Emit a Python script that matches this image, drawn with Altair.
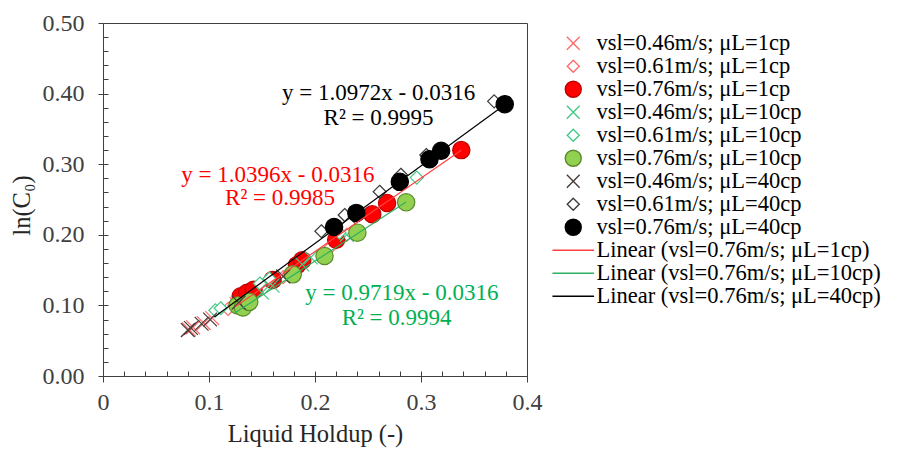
import altair as alt
import pandas as pd

FONT = "Liberation Serif"

# Series labels, in drawing order
SERIES = [
    "vsl=0.46m/s; μL=1cp",
    "vsl=0.61m/s; μL=1cp",
    "vsl=0.76m/s; μL=1cp",
    "vsl=0.46m/s; μL=10cp",
    "vsl=0.61m/s; μL=10cp",
    "vsl=0.76m/s; μL=10cp",
    "vsl=0.46m/s; μL=40cp",
    "vsl=0.61m/s; μL=40cp",
    "vsl=0.76m/s; μL=40cp",
]
TRENDS = [
    "Linear (vsl=0.76m/s; μL=1cp)",
    "Linear (vsl=0.76m/s; μL=10cp)",
    "Linear (vsl=0.76m/s; μL=40cp)",
]

# Liquid holdup (x) and ln(C0) (y) for each series
hold_046_1 = [0.081, 0.085, 0.095, 0.103, 0.126]
lnc0_046_1 = [0.066, 0.069, 0.075, 0.082, 0.102]
hold_061_1 = [0.118, 0.124, 0.145, 0.170, 0.176, 0.215, 0.230]
lnc0_061_1 = [0.095, 0.100, 0.118, 0.140, 0.146, 0.183, 0.200]
hold_076_1 = [0.130, 0.136, 0.142, 0.160, 0.183, 0.188, 0.220, 0.254, 0.268, 0.338]
lnc0_076_1 = [0.113, 0.118, 0.122, 0.136, 0.157, 0.164, 0.193, 0.229, 0.245, 0.320]

hold_046_10 = [0.150, 0.160, 0.188, 0.196, 0.230]
lnc0_046_10 = [0.118, 0.128, 0.158, 0.168, 0.200]
hold_061_10 = [0.106, 0.111, 0.148, 0.157, 0.223, 0.296]
lnc0_061_10 = [0.093, 0.096, 0.131, 0.138, 0.203, 0.281]
hold_076_10 = [0.127, 0.132, 0.138, 0.179, 0.209, 0.240, 0.286]
lnc0_076_10 = [0.100, 0.097, 0.105, 0.144, 0.170, 0.203, 0.246]

hold_046_40 = [0.080, 0.083, 0.093, 0.101, 0.128, 0.170, 0.232]
lnc0_046_40 = [0.065, 0.068, 0.074, 0.080, 0.104, 0.141, 0.225]
hold_061_40 = [0.206, 0.228, 0.261, 0.281, 0.305, 0.369]
lnc0_061_40 = [0.205, 0.228, 0.261, 0.285, 0.313, 0.389]
hold_076_40 = [0.218, 0.239, 0.280, 0.308, 0.319, 0.379]
lnc0_076_40 = [0.211, 0.231, 0.275, 0.307, 0.319, 0.385]

# Linear fits for the 0.76 m/s series and the holdup range each trendline covers
slopes = [1.0396, 0.9719, 1.0972]
intercepts = [-0.0316, -0.0316, -0.0316]
r2 = [0.9985, 0.9994, 0.9995]
fit_start = [0.125, 0.125, 0.105]
fit_end = [0.338, 0.286, 0.379]

# Equation label anchors (data coordinates)
eq_x = [0.165, 0.282, 0.260]
eq_y = [0.285, 0.118, 0.401]
r2_x = [0.167, 0.277, 0.260]
r2_y = [0.252, 0.082, 0.365]
eq_colors = ["#ff0000", "#00b050", "#000000"]

xs = [hold_046_1, hold_061_1, hold_076_1, hold_046_10, hold_061_10, hold_076_10,
      hold_046_40, hold_061_40, hold_076_40]
ys = [lnc0_046_1, lnc0_061_1, lnc0_076_1, lnc0_046_10, lnc0_061_10, lnc0_076_10,
      lnc0_046_40, lnc0_061_40, lnc0_076_40]

rows = []
for name, xv, yv in zip(SERIES, xs, ys):
    for a, b in zip(xv, yv):
        rows.append({"series": name, "holdup": a, "lnc0": b})
points = pd.DataFrame(rows)

fit_rows = []
for name, x0, x1, m, c in zip(TRENDS, fit_start, fit_end, slopes, intercepts):
    for xv in (x0, x1):
        fit_rows.append({"series": name, "holdup": xv, "lnc0": m * xv + c})
fits = pd.DataFrame(fit_rows)

labels = []
for m, c, r, ex, ey, rx, ry, col in zip(slopes, intercepts, r2, eq_x, eq_y, r2_x, r2_y, eq_colors):
    labels.append({"txt": f"y = {m:.4f}x - {abs(c):.4f}", "holdup": ex, "lnc0": ey, "col": col})
    labels.append({"txt": f"R² = {r:.4f}", "holdup": rx, "lnc0": ry, "col": col})
labels = pd.DataFrame(labels)

# Shared legend scales: 9 marker series + 3 trendlines
DOMAIN = SERIES + TRENDS
XPATH = "M-0.8,-0.8L0.8,0.8M-0.8,0.8L0.8,-0.8"
DPATH = "M0,-0.75L0.75,0L0,0.75L-0.75,0Z"
LPATH = "M-2.6,0L2.6,0"
shape_range = [XPATH, DPATH, "circle"] * 3 + [LPATH] * 3
stroke_range = [
    "#ff6b6b", "#ff6b6b", "#c00000",
    "#45c987", "#45c987", "#5a8a2c",
    "#4a3a3a", "#3a3a3a", "#000000",
    "#ff4040", "#2eb060", "#000000",
]
fill_range = [
    "transparent", "#ffffff", "#ff0000",
    "transparent", "#ffffff", "#92d050",
    "transparent", "#ffffff", "#000000",
    "transparent", "transparent", "transparent",
]

xscale = alt.Scale(domain=[0, 0.4], nice=False, zero=False)
yscale = alt.Scale(domain=[0, 0.5], nice=False, zero=False)

legend = alt.Legend(
    title=None, orient="none", legendX=459, legendY=9,
    labelFont=FONT, labelFontSize=22.5, labelColor="#000000", labelLimit=500,
    labelOffset=12, symbolSize=256, symbolStrokeWidth=1.4, rowPadding=-1,
)

ax_x = alt.Axis(values=[0, 0.1, 0.2, 0.3, 0.4], labelExpr="format(datum.value, '~g')",
                orient="bottom", title="Liquid Holdup (-)", labelFlush=False,
                labelFont=FONT, titleFont=FONT,
                grid=False, tickSize=6, labelPadding=8, titlePadding=8)
ax_y = alt.Axis(values=[0, 0.1, 0.2, 0.3, 0.4, 0.5], format=".2f", orient="left", title="ln(C₀)",
                labelFont=FONT, titleFont=FONT, titleY=182, labelFlush=False,
                grid=False, tickSize=5, labelPadding=14, titlePadding=8)
minor_vals_x = [round(i * 0.02, 2) for i in range(21)]
minor_vals_y = [round(i * 0.02, 2) for i in range(26)]
ax_x_in = alt.Axis(values=minor_vals_x, orient="bottom", title=None, labels=False, domain=False,
                   grid=False, tickSize=5, offset=-5)
ax_y_in = alt.Axis(values=minor_vals_y, orient="left", title=None, labels=False, domain=False,
                   grid=False, tickSize=5, offset=-5)

pts = alt.Chart(points).mark_point(filled=False, size=300, strokeWidth=1.2, opacity=1).encode(
    x=alt.X("holdup:Q", scale=xscale, axis=ax_x),
    y=alt.Y("lnc0:Q", scale=yscale, axis=ax_y),
    shape=alt.Shape("series:N", scale=alt.Scale(domain=DOMAIN, range=shape_range), legend=legend),
    stroke=alt.Stroke("series:N", scale=alt.Scale(domain=DOMAIN, range=stroke_range), legend=legend),
    fill=alt.Fill("series:N", scale=alt.Scale(domain=DOMAIN, range=fill_range), legend=legend),
    order=alt.Order("idx:Q"),
).transform_window(idx="row_number()")

lines = alt.Chart(fits).mark_line(strokeWidth=1.2).encode(
    x=alt.X("holdup:Q", scale=xscale, axis=ax_x_in),
    y=alt.Y("lnc0:Q", scale=yscale, axis=ax_y_in),
    stroke=alt.Stroke("series:N", scale=alt.Scale(domain=DOMAIN, range=stroke_range), legend=legend),
    detail="series:N",
)

text = alt.Chart(labels).mark_text(font=FONT, fontSize=23, align="center", baseline="middle").encode(
    x=alt.X("holdup:Q", scale=xscale, axis=None),
    y=alt.Y("lnc0:Q", scale=yscale, axis=None),
    text="txt:N",
    color=alt.Color("col:N", scale=None),
)

chart = alt.layer(pts, lines, text).resolve_axis(x="independent", y="independent").properties(
    width=424, height=353,
    autosize=alt.AutoSizeParams(type="none"),
    padding={"left": 103, "top": 23, "right": 377, "bottom": 75},
    background="#ffffff",
).configure(font=FONT).configure_view(stroke="#404040", strokeWidth=1).configure_axis(
    labelFont=FONT, labelFontSize=24, labelColor="#404040",
    titleFont=FONT, titleFontSize=24.5, titleColor="#262626", titleFontWeight="normal",
    domainColor="#404040", tickColor="#404040", tickWidth=1, domainWidth=1,
).configure_legend(labelFont=FONT)

chart.save("out.html", embed_options={"renderer": "svg", "actions": False})
